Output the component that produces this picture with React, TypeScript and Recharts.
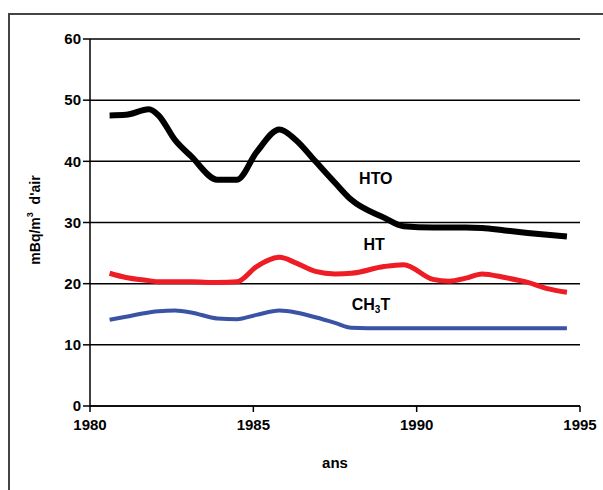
import { LineChart, Line, XAxis, YAxis, CartesianGrid, ReferenceDot } from "recharts";

const years = [
  1980.6, 1981.1, 1981.8, 1982.1, 1982.6, 1983.1, 1983.9, 1984.5, 1985.1, 1985.8, 1986.3, 1986.9,
  1987.5, 1988, 1989, 1989.6, 1990.5, 1991, 1991.5, 1992, 1992.7, 1993.4, 1994, 1994.6,
];
const hto = [
  47.5, 47.6, 48.5, 47.5, 43.5, 40.8, 37, 37, 41.5, 45.2, 43.5, 40, 36.5, 33.7, 30.8, 29.4, 29.2,
  29.2, 29.2, 29.1, 28.7, 28.3, 28, 27.7,
];
const ht = [
  21.7, 21, 20.5, 20.3, 20.3, 20.3, 20.2, 20.3, 22.8, 24.3, 23.4, 22, 21.6, 21.7, 22.8, 23.1, 20.7,
  20.4, 20.9, 21.6, 21, 20.2, 19.2, 18.6,
];
const ch3t = [
  14.1, 14.6, 15.3, 15.5, 15.6, 15.3, 14.3, 14.2, 14.9, 15.6, 15.3, 14.5, 13.6, 12.8, 12.7, 12.7,
  12.7, 12.7, 12.7, 12.7, 12.7, 12.7, 12.7, 12.7,
];
const xTicks = [1980, 1985, 1990, 1995];
const yTicks = [0, 10, 20, 30, 40, 50, 60];

const data = years.map((year, i) => ({ year, hto: hto[i], ht: ht[i], ch3t: ch3t[i] }));

const font = "'Liberation Sans', Arial, sans-serif";
const tickStyle = { fontSize: 15, fontWeight: 700, fill: "#000", fontFamily: font };

const SeriesLabel = ({ viewBox, children }: any) => (
  <text x={viewBox.cx ?? viewBox.x} y={viewBox.cy ?? viewBox.y} textAnchor="middle" dominantBaseline="middle"
    style={{ fontSize: 16, fontWeight: 700, fontFamily: font, fill: "#000" }}>
    {children}
  </text>
);

export default function App() {
  return (
    <div style={{ position: "absolute", left: 0, top: 0, width: 603, height: 490, overflow: "hidden", background: "#fff" }}>
      <div style={{ position: "absolute", left: 8, top: 13, width: 640, height: 520, border: "2px solid #444" }} />
      <div style={{ position: "absolute", left: 0, top: 0 }}>
        <LineChart width={603} height={490} data={data} margin={{ top: 39, right: 23, bottom: 22, left: 60 }}>
          <CartesianGrid vertical={false} stroke="#000" strokeWidth={1.5} />
          <XAxis
            dataKey="year" type="number" domain={[1980, 1995]} ticks={xTicks} height={62}
            stroke="#000" strokeWidth={1.5} tickSize={6} tickMargin={7} tick={tickStyle}
            label={{ value: "ans", position: "insideBottom", offset: 0, style: { ...tickStyle } }}
          />
          <YAxis
            type="number" domain={[0, 60]} ticks={yTicks} width={30} stroke="#000" strokeWidth={1.5}
            tickSize={7} tickMargin={2} tick={tickStyle}
            label={{
              content: () => (
                <text transform="rotate(-90, 36, 220)" x={36} y={220} textAnchor="middle" dominantBaseline="middle"
                  style={{ fontSize: 14, fontWeight: 700, fontFamily: font, fill: "#000" }}>
                  mBq/m<tspan dy={-5} fontSize={9}>3</tspan><tspan dy={5}>{"\u00a0\u00a0d'air"}</tspan>
                </text>
              ),
            }}
          />
          <Line type="monotone" dataKey="hto" stroke="#000" strokeWidth={6} dot={false} isAnimationActive={false} />
          <Line type="monotone" dataKey="ht" stroke="#ee1c24" strokeWidth={5} dot={false} isAnimationActive={false} />
          <Line type="monotone" dataKey="ch3t" stroke="#3a53a4" strokeWidth={4} dot={false} isAnimationActive={false} />
          <ReferenceDot x={1988.75} y={37} r={0} stroke="none" label={(p: any) => <SeriesLabel {...p}>HTO</SeriesLabel>} />
          <ReferenceDot x={1988.7} y={26.2} r={0} stroke="none" label={(p: any) => <SeriesLabel {...p}>HT</SeriesLabel>} />
          <ReferenceDot x={1988.6} y={16.4} r={0} stroke="none"
            label={(p: any) => (
              <SeriesLabel {...p}>
                CH<tspan dy={4} fontSize={10}>3</tspan><tspan dy={-4}>T</tspan>
              </SeriesLabel>
            )}
          />
        </LineChart>
      </div>
    </div>
  );
}
